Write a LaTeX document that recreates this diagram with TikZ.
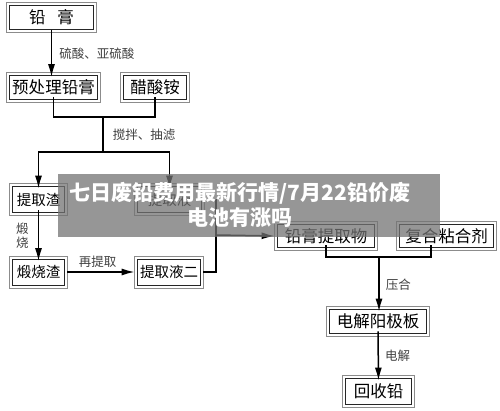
\documentclass[tikz,border=0pt]{standalone}
\usepackage{fontspec}
\setmainfont{Noto Sans CJK SC}
\usepackage{tikz}
\usetikzlibrary{arrows.meta}
\tikzstyle{arrow} = [-{Latex[length=13pt,width=7pt]}, line width=1.5pt]
\tikzstyle{line} = [line width=1.5pt]
\tikzstyle{box} = [draw=black!85, line width=0.9pt, inner sep=0pt, minimum height=24pt, font=\fontsize{16.5}{17}\selectfont]
\tikzstyle{frame} = [draw=black!45, line width=0.8pt]
\tikzstyle{small} = [font=\fontsize{14.5}{15}\selectfont]
\tikzstyle{lbl} = [font=\fontsize{12.5}{14}\selectfont, text=black!75, inner sep=1pt]

\begin{document}
\begin{tikzpicture}[x=1pt,y=-1pt]
        \useasboundingbox (0,0) rectangle (500,411);
        \node[box, minimum width=84pt] at (51.5,17.5) (qg) {铅\hspace{0.7em}膏};
        \node[box, minimum width=88pt] at (53.5,87) (ycl) {预处理铅膏};
        \node[box, minimum width=63pt] at (155,87) (csa) {醋酸铵};
        \node[box, small, minimum width=52pt, minimum height=26pt] at (38.5,199.5) (tqz) {提取渣};
        \node[box, small, minimum width=64pt, minimum height=26pt] at (169.5,199.5) (tqy) {提取液};
        \node[box, small, minimum width=52pt, minimum height=26pt] at (38.5,272) (dsz) {煅烧渣};
        \node[box, small, minimum width=63pt, minimum height=26pt] at (169,272) (tqy2) {提取液二};
        \node[box, minimum width=97pt, minimum height=23pt] at (326,236) (qgtqw) {铅膏提取物};
        \node[box, minimum width=94pt, minimum height=23pt] at (446.5,236) (fhnhj) {复合粘合剂};
        \node[box, minimum width=97pt] at (378,321.5) (djyjb) {电解阳极板};
        \node[box, minimum width=66pt, minimum height=26pt] at (378.5,391.5) (hsq) {回收铅};
        \foreach \n in {qg,ycl,csa,tqz,tqy,dsz,tqy2,qgtqw,fhnhj,djyjb,hsq}
            \draw[frame] ([shift={(-2.5,-2.5)}]\n.north west) rectangle ([shift={(2.5,2.5)}]\n.south east);

        \coordinate (j1) at (103,117);
        \coordinate (j2) at (103,152);
        \coordinate (m1) at (216,235);
        \coordinate (j3) at (379,257);

        \draw[arrow] (qg.south) -- ([yshift=-2.5pt]qg.south |- ycl.north) node[lbl, midway, right=6pt]{硫酸、亚硫酸};
        \draw[line] ([yshift=2.5pt]ycl.south) |- (j1) -| ([yshift=2.5pt]csa.south);
        \draw[line] (j1) -- (j2) node[lbl, midway, right=8pt]{搅拌、抽滤};
        \draw[arrow] (j2) -| ([yshift=-2.5pt]tqz.north);
        \draw[arrow] (j2) -| ([yshift=-2.5pt]tqy.north);
        \draw[arrow] ([yshift=2.5pt]tqz.south) -- ([yshift=-2.5pt]dsz.north) node[lbl, midway, left=8pt, align=center]{煅\\烧};
        \draw[arrow] ([xshift=2.5pt]dsz.east) -- ([xshift=-2.5pt]tqy2.west) node[lbl, pos=0.45, above=3pt]{再提取};
        \draw[line] ([xshift=2.5pt]tqy.east) -| (m1);
        \draw[line] ([xshift=2.5pt]tqy2.east) -| (m1);
        \draw[arrow] (m1) -- ([xshift=-2.5pt]qgtqw.west);
        \draw[line] ([yshift=2.5pt]qgtqw.south) |- (j3) -| ([xshift=-15.5pt,yshift=2.5pt]fhnhj.south);
        \draw[arrow] (j3) -- ([yshift=-2.5pt]j3 |- djyjb.north) node[lbl, midway, right=5pt]{压合};
        \draw[arrow] ([yshift=2.5pt]djyjb.south) -- ([yshift=-2.5pt]hsq.north) node[lbl, midway, right=5pt]{电解};

        % banner on top
        \node[fill=black!55, fill opacity=0.75, minimum width=382pt, minimum height=63pt, inner sep=0pt] at (249,205.5) (banner) {};
        \node[text=white, align=center, font=\fontsize{21}{25}\selectfont\bfseries] at (240,204.5) (title) {七日废铅费用最新行情/7月22铅价废\\电池有涨吗};
\end{tikzpicture}
\end{document}
